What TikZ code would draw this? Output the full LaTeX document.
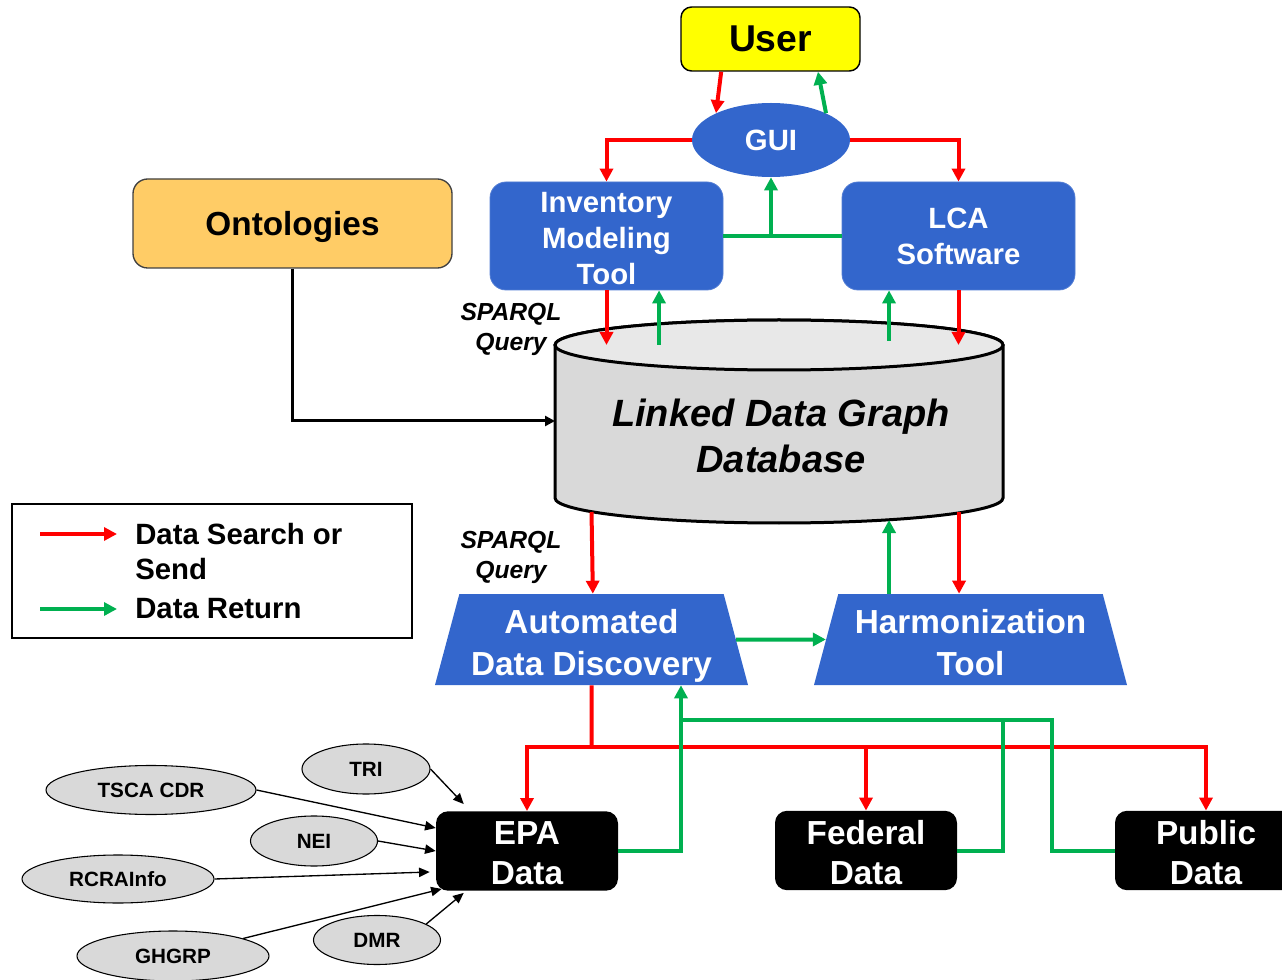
\documentclass[tikz,border=0pt]{standalone}
\usepackage{fontspec}
\setmainfont{Liberation Sans}
\usetikzlibrary{shapes.geometric,arrows.meta}
\definecolor{cblue}{HTML}{3366CC}
\definecolor{cred}{HTML}{FF0000}
\definecolor{cgreen}{HTML}{00B050}
\definecolor{cyellow}{HTML}{FFFF00}
\definecolor{corange}{HTML}{FFCC66}
\definecolor{egray}{HTML}{D9D9D9}
\definecolor{cyltop}{HTML}{E8E8E8}
\newcommand\trapTop{\rule{0pt}{27.5pt}}
\newcommand\trapBot{\rule[-5pt]{0pt}{5pt}}
\tikzset{
 srcell/.style={ellipse, draw=black, line width=0.8pt, fill=egray, inner sep=0pt,
   font=\bfseries\fontsize{15.5}{18}\selectfont},
 bluebox/.style={rectangle, rounded corners=12pt, fill=cblue, draw=cblue!85!white, line width=0.6pt,
   text=white, align=center, minimum width=174.75pt, minimum height=81pt, inner sep=0pt,
   font=\bfseries\fontsize{22}{27}\selectfont},
 blackbox/.style={rectangle, rounded corners=9pt, fill=black, text=white, align=center,
   minimum width=136.5pt, minimum height=59.5pt, inner sep=0pt,
   font=\bfseries\fontsize{25}{30}\selectfont},
 trapbox/.style={trapezium, trapezium angle=74, trapezium stretches body, fill=cblue, text=white,
   align=center, minimum width=234.75pt, minimum height=68.25pt, inner sep=0pt,
   font=\bfseries\fontsize{25}{31}\selectfont},
 sparql/.style={align=center, inner sep=0pt, font=\bfseries\itshape\fontsize{18.5}{23}\selectfont},
 redarr/.style={draw=cred, line width=3pt, -{Triangle[length=9.75pt,width=9.75pt]}},
 greenarr/.style={draw=cgreen, line width=3pt, -{Triangle[length=9.75pt,width=9.75pt]}},
 redline/.style={draw=cred, line width=3pt},
 greenline/.style={draw=cgreen, line width=3pt},
 thinarr/.style={draw=black, line width=1pt, -{Triangle[length=8pt,width=7pt]}},
}
\begin{document}
\begin{tikzpicture}[x=0.75pt,y=-0.75pt]
\useasboundingbox (0,0) rectangle (1282,980);
\clip (0,0) rectangle (1282,980);

% ---------- cylinder ----------
\draw[line width=2.25pt, fill=egray] (555,345) -- (555,498)
  arc[start angle=180,end angle=360,x radius=168pt,y radius=18.75pt]
  -- (1003,345)
  arc[start angle=0,end angle=180,x radius=168pt,y radius=18.75pt] -- cycle;
\draw[line width=2.25pt, fill=cyltop] (779,345) ellipse [x radius=168pt, y radius=18.75pt];
\node[align=center, inner sep=0pt, font=\bfseries\itshape\fontsize{28.5}{34.5}\selectfont] (db) at (781,436) {Linked Data Graph\\Database};
\coordinate (dbtop) at (779,345);
\coordinate (dbleft) at (555,421);
\coordinate (dbbot) at (779,512);
\coordinate (dbbot2) at (779,520);

% ---------- nodes ----------
\node[rectangle, rounded corners=8pt, draw=black, line width=1.1pt, fill=cyellow,
  minimum width=134.25pt, minimum height=48pt, inner sep=0pt,
  font=\bfseries\fontsize{28}{32}\selectfont] (user) at (770.5,39) {User};
\node[ellipse, fill=cblue, text=white, minimum width=118.5pt, minimum height=55.5pt, inner sep=0pt,
  font=\bfseries\fontsize{22}{26}\selectfont] (gui) at (771,140) {GUI};
\node[bluebox] (imt) at (606.5,236) {\rule{0pt}{19pt}Inventory\\Modeling\\Tool};
\node[bluebox] (lca) at (958.5,236) {LCA\\Software};
\node[rectangle, rounded corners=11pt, draw=black!75, line width=1pt, fill=corange,
  minimum width=239.25pt, minimum height=66.75pt, inner sep=0pt,
  font=\bfseries\fontsize{25}{30}\selectfont] (onto) at (292.5,223.5) {\rule{0pt}{23pt}Ontologies};

\node[sparql] (sq1) at (511,329.5) {SPARQL\\Query};
\node[sparql] (sq2) at (511,557.5) {SPARQL\\Query};

\node[trapbox] (add) at (591.5,639.5) {\trapTop Automated\\Data Discovery\trapBot};
\node[trapbox] (harm) at (970.5,639.5) {\trapTop Harmonization\\Tool\trapBot};

\node[blackbox] (epa) at (527,851) {\rule{0pt}{21pt}EPA\\Data};
\node[blackbox] (fed) at (866,850.5) {\rule{0pt}{21pt}Federal\\Data};
\node[blackbox] (pub) at (1206,850.5) {\rule{0pt}{21pt}Public\\Data};

\node[srcell, minimum width=96pt, minimum height=37.5pt] (tri) at (366,769) {TRI};
\node[srcell, minimum width=157.5pt, minimum height=36.75pt] (tsca) at (151,790) {TSCA CDR};
\node[srcell, minimum width=95.25pt, minimum height=37.5pt] (nei) at (314,841) {NEI};
\node[srcell, minimum width=144pt, minimum height=36pt] (rcra) at (118,879) {RCRAInfo};
\node[srcell, minimum width=144pt, minimum height=37.5pt] (ghg) at (173,956) {GHGRP};
\node[srcell, minimum width=95.25pt, minimum height=36.75pt] (dmr) at (377,940) {DMR};

% ---------- legend ----------
\node[rectangle, draw=black, line width=1.1pt, minimum width=300pt, minimum height=100.5pt, inner sep=0pt] (legend) at (212,571) {};
\coordinate (lr1) at (40,534); \coordinate (lr2) at (117,534);
\coordinate (lg1) at (40,609); \coordinate (lg2) at (117,609);
\draw[redarr] (lr1) -- (lr2);
\draw[greenarr] (lg1) -- (lg2);
\node[anchor=west, align=left, inner sep=0pt, font=\bfseries\fontsize{22}{26.25}\selectfont] (leg1) at (135,551.5) {Data Search or\\Send};
\node[anchor=west, align=left, inner sep=0pt, font=\bfseries\fontsize{22}{26.25}\selectfont] (leg2) at (135,609) {Data Return};

% ---------- top connectors ----------
\draw[redarr] ([xshift=-37pt]user.south) -- (gui.154);
\draw[greenarr] (gui.26) -- ([xshift=35.6pt]user.south);
\draw[redarr] (gui.west) -| (imt.north);
\draw[redarr] (gui.east) -| (lca.north);
\draw[greenline] (imt.east) -- (lca.west);
\draw[greenarr] (imt.east -| gui.south) -- (gui.south);

\draw[redarr] (imt.south) -- (imt.south |- dbtop);
\draw[greenarr] ([xshift=39.4pt]imt.south |- dbtop) -- ([xshift=39.4pt]imt.south);
\draw[redarr] (lca.south) -- (lca.south |- dbtop);
\draw[greenarr] ([xshift=-52.1pt,yshift=3pt]lca.south |- dbtop) -- ([xshift=-52.1pt]lca.south);

\draw[line width=2.25pt, -{Triangle[length=7.5pt,width=7.5pt]}] (onto.south) |- (dbleft);

% ---------- middle connectors ----------
\draw[redarr] (add.north |- dbbot) -- ([xshift=1pt]add.north);
\draw[greenarr] ([xshift=-61.1pt]harm.north) -- ([xshift=-61.1pt]harm.north |- dbbot2);
\draw[redarr] ([xshift=-8.6pt]harm.north |- dbbot) -- ([xshift=-8.6pt]harm.north);
\draw[greenarr] (add.east) -- (harm.west);

% ---------- bottom connectors ----------
\coordinate (rbus) at (591.5,747);
\coordinate (gbus) at (681,720);
\draw[redline] (add.south) -- (rbus);
\draw[redarr] (rbus) -| (epa.north);
\draw[redarr] (rbus) -| (fed.north);
\draw[redarr] (rbus) -| (pub.north);
\draw[greenarr] (epa.east) -| ([xshift=67.1pt]add.south);
\draw[greenline] (fed.east) -- ++(34.5pt,0) |- (gbus);
\draw[greenline] (pub.west) -- ++(-47.25pt,0) |- (gbus);

% ---------- source arrows ----------
\draw[thinarr] (tri.east) -- ([shift={(21pt,5.25pt)}]epa.north west);
\draw[thinarr] (tsca.east) -- ([yshift=17.25pt]epa.west);
\draw[thinarr] (nei.east) -- (epa.west);
\draw[thinarr] (rcra.east) -- ([shift={(-4.5pt,-15.75pt)}]epa.west);
\draw[thinarr] (ghg.14) -- ([shift={(4.5pt,1.5pt)}]epa.south west);
\draw[thinarr] (dmr.18) -- ([shift={(21pt,-1.5pt)}]epa.south west);
\end{tikzpicture}
\end{document}
